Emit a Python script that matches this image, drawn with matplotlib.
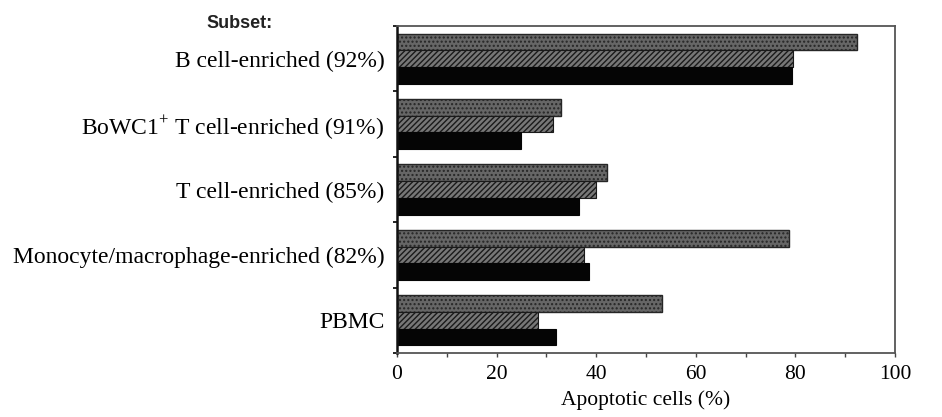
import numpy as np
import matplotlib
matplotlib.use("Agg")
import matplotlib.pyplot as plt
from matplotlib.ticker import MultipleLocator, FixedLocator

plt.rcParams['font.family'] = ['Liberation Serif', 'DejaVu Serif']
plt.rcParams['mathtext.fontset'] = 'custom'
plt.rcParams['mathtext.rm'] = 'Liberation Serif'
plt.rcParams['hatch.linewidth'] = 1.0

subsets = ['B cell-enriched (92%)',
           'BoWC1$^{+}$ T cell-enriched (91%)',
           'T cell-enriched (85%)',
           'Monocyte/macrophage-enriched (82%)',
           'PBMC']
dotted = [92.3, 32.9, 42.2, 78.7, 53.2]
hatched = [79.5, 31.3, 40.0, 37.5, 28.3]
solid = [79.3, 24.9, 36.5, 38.6, 31.9]

fig = plt.figure(figsize=(9.42, 4.17), dpi=100)
ax = fig.add_axes([0.4214, 0.1535, 0.5286, 0.7841])

y = np.arange(len(subsets))
h = 0.256

# top bar of each group: stippled grey
ax.barh(y - h, dotted, height=h, color='#666666', edgecolor='#262626',
        hatch='....', linewidth=1.0)
# middle: diagonal hatch
ax.barh(y, hatched, height=h, color='#777777', edgecolor='#1a1a1a',
        hatch='//////', linewidth=0.8)
# bottom: solid black
ax.barh(y + h, solid, height=h, color='#050505', edgecolor='#050505',
        linewidth=0.8)

ax.set_xlim(0, 100)
ax.set_ylim(4.5, -0.5)

ax.set_yticks(y)
ax.set_yticklabels(subsets, fontsize=17)
ax.yaxis.set_minor_locator(FixedLocator(np.arange(-0.5, 5.0, 1.0)))
ax.tick_params(axis='y', which='major', length=0, pad=9)
ax.tick_params(axis='y', which='minor', length=3, width=1.2, direction='out')

ax.xaxis.set_major_locator(MultipleLocator(20))
ax.xaxis.set_minor_locator(MultipleLocator(10))
ax.tick_params(axis='x', which='major', labelsize=15.5, length=3,
               width=1.0, direction='out', pad=6, color='#444')
ax.tick_params(axis='x', which='minor', length=3, width=1.0,
               direction='out', color='#444')
ax.set_xlabel('Apoptotic cells (%)', fontsize=15.5, labelpad=4)

ax.spines['left'].set_linewidth(1.8)
ax.spines['left'].set_color('#111')
for s in ['top', 'right', 'bottom']:
    ax.spines[s].set_linewidth(1.3)
    ax.spines[s].set_color('#555')

fig.text(240 / 942, 1 - 24 / 417, 'Subset:', family=['Liberation Sans'],
         fontsize=13, fontweight='bold', color='#222', ha='center', va='center')

fig.savefig('out.png', dpi=100)
